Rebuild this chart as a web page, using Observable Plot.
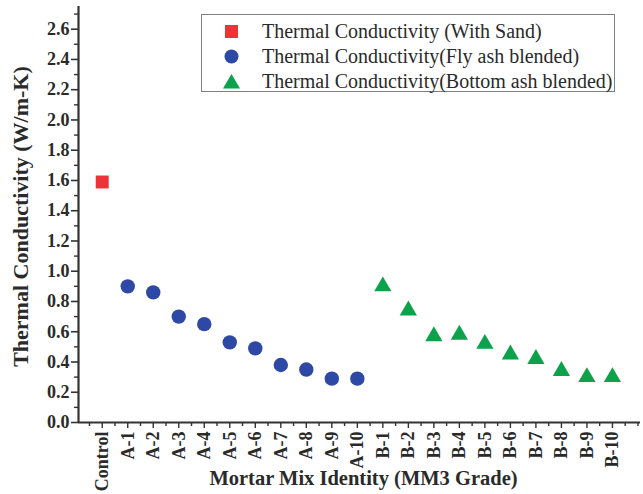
<!DOCTYPE html>
<html>
<head>
<meta charset="utf-8">
<script src="https://cdn.jsdelivr.net/npm/d3@7"></script>
<script src="https://cdn.jsdelivr.net/npm/@observablehq/plot@0.6"></script>
<style>
  html, body { margin: 0; padding: 0; background: #fff; }
  #wrap { position: relative; width: 643px; height: 494px; }
  #legend {
    position: absolute; left: 201px; top: 14px; width: 412px; height: 76px;
    border: 1.5px solid #808080; background: #fff;
    font-family: "Liberation Serif", "Times New Roman", serif; font-size: 20px; color: #2a2a2a;
  }
  .row { position: absolute; left: 0; height: 24px; line-height: 24px; white-space: nowrap; }
  .row svg { position: absolute; left: 20px; top: 3px; }
  .row span { position: absolute; left: 60px; }
</style>
</head>
<body>
<div id="wrap"></div>
<script>
// ---- data ----
const categories = ["Control","A-1","A-2","A-3","A-4","A-5","A-6","A-7","A-8","A-9","A-10",
                    "B-1","B-2","B-3","B-4","B-5","B-6","B-7","B-8","B-9","B-10"];
const sandCategories = ["Control"];
const sandValues = [1.59];
const flyAshCategories = ["A-1","A-2","A-3","A-4","A-5","A-6","A-7","A-8","A-9","A-10"];
const flyAshValues = [0.90,0.86,0.70,0.65,0.53,0.49,0.38,0.35,0.29,0.29];
const bottomAshCategories = ["B-1","B-2","B-3","B-4","B-5","B-6","B-7","B-8","B-9","B-10"];
const bottomAshValues = [0.90,0.74,0.57,0.58,0.52,0.45,0.42,0.34,0.30,0.30];
const yTicks = [0,0.2,0.4,0.6,0.8,1.0,1.2,1.4,1.6,1.8,2.0,2.2,2.4,2.6];
const seriesNames = ["Thermal Conductivity (With Sand)",
                     "Thermal Conductivity(Fly ash blended)",
                     "Thermal Conductivity(Bottom ash blended)"];
const colors = ["#ee3338", "#2e48a5", "#0ba24b"];

const pos = c => categories.indexOf(c) + 1;
const toRows = (cats, vals) => cats.map((c, i) => ({x: pos(c), y: vals[i], cat: c}));
const sand = toRows(sandCategories, sandValues);
const fly = toRows(flyAshCategories, flyAshValues);
const bottom = toRows(bottomAshCategories, bottomAshValues);

const xDomain = [0.07, 22.1];
const yDomain = [0, 2.75];
const majorX = categories.map((c, i) => i + 1);
const minorX = d3.range(0.5, 22.05, 0.5).filter(v => !Number.isInteger(v) || v === 22);
const minorY = d3.range(0.1, 2.75, 0.2).map(v => +v.toFixed(1));

const font = '"Liberation Serif", "Times New Roman", serif';
const ink = "#333";

const chart = Plot.plot({
  width: 643,
  height: 494,
  marginLeft: 78,
  marginRight: 3,
  marginTop: 6,
  marginBottom: 72,
  style: {fontFamily: font, fontSize: "15px", fontWeight: "bold", color: ink, background: "#fff", overflow: "visible"},
  x: {type: "linear", domain: xDomain},
  y: {type: "linear", domain: yDomain},
  marks: [
    Plot.axisY({ticks: yTicks, tickSize: 7, tickPadding: 2, tickFormat: d3.format(".1f"), label: null,
                stroke: ink, strokeWidth: 1.6, fontSize: 18, fontWeight: "bold", fill: "#2a2a2a"}),
    Plot.axisY({ticks: minorY, tickSize: 4, tickFormat: () => "", label: null, stroke: ink, strokeWidth: 1.4}),
    Plot.axisX({ticks: majorX, tickSize: 6, tickPadding: 3, tickRotate: -90,
                tickFormat: d => categories[d - 1], label: null,
                stroke: ink, strokeWidth: 1.4, fontSize: 18, fontWeight: "bold", fill: "#2a2a2a"}),
    Plot.axisX({ticks: minorX, tickSize: 4, tickFormat: () => "", label: null, stroke: ink, strokeWidth: 1.4}),
    Plot.ruleY([0], {stroke: ink, strokeWidth: 2.2}),
    Plot.ruleX([xDomain[0]], {stroke: ink, strokeWidth: 2.2}),
    Plot.dot(sand, {x: "x", y: "y", symbol: "square", r: 7.3, fill: colors[0]}),
    Plot.dot(fly, {x: "x", y: "y", symbol: "circle", r: 7.2, fill: colors[1]}),
    Plot.dot(bottom, {x: "x", y: "y", symbol: "triangle", r: 6.4, fill: colors[2]}),
    Plot.text(["Thermal Conductivity (W/m-K)"], {frameAnchor: "left", textAnchor: "middle", rotate: -90, dx: -58, dy: 2,
                fontSize: 22, fontWeight: "bold", fill: "#2a2a2a"}),
    Plot.text(["Mortar Mix Identity (MM3 Grade)"], {frameAnchor: "bottom", textAnchor: "middle", dy: 62, dx: 4,
                fontSize: 20.5, fontWeight: "bold", fill: "#2a2a2a"})
  ]
});

const wrap = document.getElementById("wrap");
wrap.appendChild(chart);

// legend
const legend = document.createElement("div");
legend.id = "legend";
const symbols = [
  `<rect x="3" y="3" width="13" height="13" fill="${colors[0]}"/>`,
  `<circle cx="9.5" cy="9.5" r="7" fill="${colors[1]}"/>`,
  `<polygon points="9.5,2 18,16.5 1,16.5" fill="${colors[2]}"/>`
];
seriesNames.forEach((name, i) => {
  const row = document.createElement("div");
  row.className = "row";
  row.style.top = (4 + i * 25) + "px";
  row.innerHTML = `<svg width="19" height="19">${symbols[i]}</svg><span>${name}</span>`;
  legend.appendChild(row);
});
wrap.appendChild(legend);
</script>
</body>
</html>
